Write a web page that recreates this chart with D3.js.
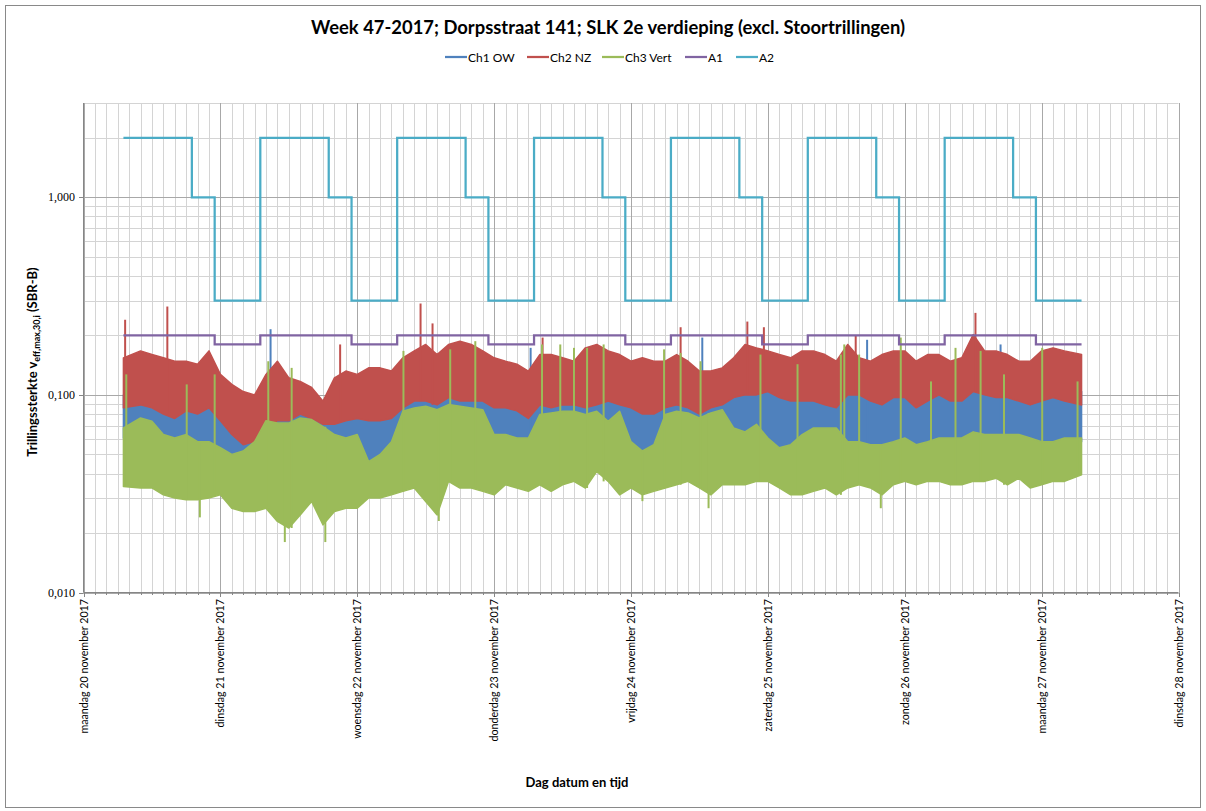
<!DOCTYPE html>
<html>
<head>
<meta charset="utf-8">
<script src="https://cdn.jsdelivr.net/npm/d3@7"></script>
<style>
  body { margin: 0; background: #fff; }
  svg { display: block; }
  text { font-family: Lato, "Open Sans", sans-serif; fill: #000; }
</style>
</head>
<body>
<div id="vis-container"></div>
<script>
// Data: 2-hour envelopes (lower / upper edge of each trace), from 20 nov 2017 07:00
var ch1Hi = [0.100,0.104,0.100,0.093,0.089,0.097,0.093,0.100,0.086,0.074,
  0.065,0.068,0.080,0.086,0.086,0.093,0.089,0.083,0.083,0.086,
  0.089,0.086,0.086,0.089,0.100,0.109,0.109,0.104,0.113,0.109,
  0.109,0.109,0.100,0.100,0.097,0.089,0.104,0.100,0.104,0.104,
  0.100,0.104,0.109,0.104,0.100,0.093,0.093,0.100,0.104,0.100,
  0.093,0.100,0.104,0.113,0.117,0.117,0.122,0.113,0.109,0.109,
  0.109,0.104,0.100,0.117,0.117,0.109,0.104,0.113,0.113,0.100,
  0.109,0.117,0.109,0.109,0.122,0.117,0.113,0.113,0.109,0.104,
  0.109,0.113,0.109,0.104];
var ch1Lo = [0.0605,0.068,0.065,0.063,0.058,0.0605,0.056,0.054,0.050,0.043,
  0.039,0.054,0.063,0.068,0.063,0.065,0.065,0.063,0.054,0.046,
  0.050,0.044,0.046,0.050,0.063,0.068,0.068,0.065,0.068,0.071,
  0.068,0.063,0.056,0.058,0.054,0.056,0.063,0.068,0.068,0.068,
  0.065,0.068,0.063,0.068,0.054,0.050,0.054,0.063,0.068,0.068,
  0.065,0.068,0.074,0.068,0.063,0.063,0.052,0.050,0.050,0.058,
  0.063,0.065,0.063,0.058,0.058,0.056,0.054,0.056,0.058,0.052,
  0.056,0.058,0.058,0.058,0.063,0.0605,0.0605,0.063,0.0605,0.058,
  0.056,0.056,0.058,0.058];
var ch2Hi = [0.154,0.167,0.160,0.154,0.148,0.148,0.143,0.167,0.127,0.113,
  0.104,0.100,0.127,0.148,0.122,0.117,0.109,0.093,0.122,0.132,
  0.127,0.137,0.137,0.132,0.154,0.167,0.180,0.160,0.180,0.187,
  0.180,0.167,0.154,0.148,0.143,0.132,0.160,0.160,0.154,0.148,
  0.173,0.180,0.167,0.160,0.148,0.154,0.148,0.148,0.160,0.148,
  0.132,0.132,0.137,0.154,0.180,0.173,0.167,0.160,0.154,0.167,
  0.167,0.160,0.148,0.180,0.154,0.148,0.160,0.167,0.167,0.148,
  0.160,0.160,0.148,0.154,0.202,0.167,0.167,0.160,0.148,0.148,
  0.167,0.173,0.167,0.160];
var ch2Lo = [0.086,0.089,0.086,0.080,0.076,0.083,0.080,0.086,0.074,0.063,
  0.056,0.058,0.068,0.074,0.074,0.080,0.076,0.071,0.071,0.074,
  0.076,0.074,0.074,0.076,0.086,0.093,0.093,0.089,0.097,0.093,
  0.093,0.093,0.086,0.086,0.083,0.076,0.089,0.086,0.089,0.089,
  0.086,0.089,0.093,0.089,0.086,0.080,0.080,0.086,0.089,0.086,
  0.080,0.086,0.089,0.097,0.100,0.100,0.104,0.097,0.093,0.093,
  0.093,0.089,0.086,0.100,0.100,0.093,0.089,0.097,0.097,0.086,
  0.093,0.100,0.093,0.093,0.104,0.100,0.097,0.097,0.093,0.089,
  0.093,0.097,0.093,0.089];
var ch3Hi = [0.068,0.0764,0.0735,0.063,0.0605,0.063,0.058,0.058,0.054,0.050,
  0.052,0.058,0.074,0.072,0.072,0.0764,0.075,0.069,0.063,0.0605,
  0.063,0.046,0.050,0.058,0.0826,0.0859,0.0876,0.0842,0.0893,0.0876,
  0.0859,0.0842,0.063,0.063,0.0605,0.0605,0.0795,0.081,0.0826,0.0826,
  0.0795,0.0826,0.0735,0.0826,0.058,0.052,0.056,0.0795,0.0826,0.081,
  0.0764,0.081,0.0842,0.068,0.065,0.071,0.0605,0.054,0.056,0.063,
  0.068,0.068,0.068,0.058,0.058,0.056,0.056,0.058,0.0605,0.056,
  0.058,0.0605,0.0605,0.0605,0.065,0.063,0.063,0.063,0.063,0.0605,
  0.058,0.058,0.0605,0.0605];
var ch3Lo = [0.0344,0.0338,0.0338,0.0312,0.0301,0.0295,0.0295,0.0301,0.0312,0.0267,
  0.0257,0.0257,0.0267,0.0229,0.0212,0.0247,0.0289,0.022,0.0257,0.0267,
  0.0267,0.0301,0.0301,0.0312,0.0325,0.0338,0.0289,0.0247,0.0365,0.0338,
  0.0338,0.0325,0.0312,0.0351,0.0338,0.0325,0.0351,0.0325,0.0351,0.0365,
  0.0338,0.041,0.0365,0.0312,0.0338,0.0312,0.0325,0.0338,0.0351,0.0365,
  0.0338,0.0312,0.0351,0.0351,0.0351,0.0365,0.0365,0.0338,0.0312,0.0312,
  0.0325,0.0338,0.0312,0.0338,0.0351,0.0338,0.0312,0.0351,0.0365,0.0351,
  0.0365,0.0365,0.0351,0.0351,0.0365,0.0365,0.0379,0.0351,0.0379,0.0338,
  0.0351,0.0365,0.0365,0.0394];

// single peaks [hours after start, value]
var ch1Spikes = [[25.8,0.215],[71.4,0.173],[101.5,0.195],[130.4,0.19],[153.8,0.18]];
var ch2Spikes = [[0.3,0.24],[7.7,0.28],[38,0.18],[52.1,0.29],[54.2,0.23],[73.5,0.195],
  [97.7,0.22],[109.4,0.235],[112.3,0.22],[128.4,0.2],[149.4,0.26]];
var ch3Spikes = [[0.5,0.127],[11.1,0.113],[16.0,0.127],[25.4,0.148],[29.5,0.137],[49.1,0.167],
  [57.3,0.17],[61.7,0.187],[73.4,0.18],[76.6,0.18],[79.0,0.173],[81.3,0.173],[84.2,0.18],
  [94.8,0.17],[97.7,0.163],[101.2,0.148],[111.7,0.16],[118.2,0.143],[125.8,0.16],[126.4,0.18],
  [129.0,0.16],[136.3,0.195],[141.6,0.117],[145.9,0.173],[150.3,0.167],[154.4,0.127],
  [161.1,0.173],[167.3,0.117]];
var ch3Dips = [[13.4,0.024],[28.3,0.018],[35.4,0.018],[55.3,0.023],[91,0.029],[102.6,0.0267],[132.8,0.0267]];

// limits per period: dag 07-19, avond 19-23, nacht 23-07
var periodHours = [12, 4, 8];
var a1Values = [0.2, 0.2, 0.18];
var a2Values = [2, 1, 0.3];

var seriesNames = ["Ch1 OW", "Ch2 NZ", "Ch3 Vert", "A1", "A2"];
var seriesColors = ["#4F81BD", "#C0504D", "#9BBB59", "#8064A2", "#4BACC6"];
var yTickValues = [0.01, 0.1, 1];
var dayNames = ["zondag","maandag","dinsdag","woensdag","donderdag","vrijdag","zaterdag"];
var monthNames = ["januari","februari","maart","april","mei","juni","juli","augustus","september","oktober","november","december"];

var start = new Date(2017, 10, 20, 7);
function atHour(h) { return new Date(start.getTime() + h * 3600000); }

var nl = d3.timeFormatLocale({
  dateTime: "%a %e %B %Y %X", date: "%d-%m-%Y", time: "%H:%M:%S", periods: ["AM","PM"],
  days: dayNames, shortDays: dayNames.map(d => d.slice(0,2)),
  months: monthNames, shortMonths: monthNames.map(m => m.slice(0,3))
});
var dayFormat = nl.format("%A %-d %B %Y");

var svg = d3.select("#vis-container").append("svg")
  .attr("width", 1206).attr("height", 811);

svg.append("rect")
  .attr("x", 5.5).attr("y", 5.5).attr("width", 1195).attr("height", 802)
  .attr("fill", "#fff").attr("stroke", "#898989");

var x = d3.scaleTime()
  .domain([new Date(2017, 10, 20), new Date(2017, 10, 28)])
  .range([83.5, 1178.5]);
var y = d3.scaleLog().domain([0.01, 3]).range([592.5, 103]);

// gridlines
var grid = svg.append("g");
grid.selectAll(".hminor").data(y.ticks()).enter().append("line")
  .attr("x1", 83.5).attr("x2", 1178.5)
  .attr("y1", d => Math.round(y(d)) + 0.5).attr("y2", d => Math.round(y(d)) + 0.5)
  .attr("stroke", "#d4d4d4");
grid.selectAll(".vminor").data(x.ticks(d3.timeHour.every(2))).enter().append("line")
  .attr("y1", 103).attr("y2", 592.5)
  .attr("x1", d => Math.round(x(d)) + 0.5).attr("x2", d => Math.round(x(d)) + 0.5)
  .attr("stroke", "#d4d4d4");
grid.selectAll(".hmajor").data(yTickValues).enter().append("line")
  .attr("x1", 83.5).attr("x2", 1178.5)
  .attr("y1", d => Math.round(y(d)) + 0.5).attr("y2", d => Math.round(y(d)) + 0.5)
  .attr("stroke", "#a8a8a8");
grid.selectAll(".vmajor").data(x.ticks(d3.timeDay.every(1))).enter().append("line")
  .attr("y1", 103).attr("y2", 592.5)
  .attr("x1", d => Math.round(x(d)) + 0.5).attr("x2", d => Math.round(x(d)) + 0.5)
  .attr("stroke", "#a8a8a8");

// series as min/max bands
function slotX(i, n) {
  var h = i === 0 ? 0 : (i === n - 1 ? 2 * n : 2 * i + 1);
  return x(atHour(h));
}
function drawBand(lo, hi, color) {
  var band = d3.area()
    .x((d, i) => slotX(i, lo.length))
    .y0((d, i) => y(lo[i]))
    .y1((d, i) => y(hi[i]));
  svg.append("path").datum(lo).attr("d", band).attr("fill", color)
    .attr("stroke", color).attr("stroke-width", 1.5).attr("stroke-linejoin", "round");
}
function drawSpikes(spikes, base, color) {
  svg.append("g").selectAll("line").data(spikes).enter().append("line")
    .attr("x1", d => x(atHour(d[0]))).attr("x2", d => x(atHour(d[0])))
    .attr("y1", d => y(d[1]))
    .attr("y2", d => y(base[Math.min(base.length - 1, Math.floor(d[0] / 2))]))
    .attr("stroke", color).attr("stroke-width", 2);
}

drawBand(ch1Lo, ch1Hi, seriesColors[0]);
drawSpikes(ch1Spikes, ch1Lo, seriesColors[0]);
drawBand(ch2Lo, ch2Hi, seriesColors[1]);
drawSpikes(ch2Spikes, ch2Lo, seriesColors[1]);
drawBand(ch3Lo, ch3Hi, seriesColors[2]);
drawSpikes(ch3Spikes, ch3Lo, seriesColors[2]);
drawSpikes(ch3Dips, ch3Hi, seriesColors[2]);

// limit lines A1 / A2 (step per period over 7 days)
function limitSteps(values) {
  var pts = [], h = 0;
  for (var d = 0; d < 7; d++) {
    for (var p = 0; p < periodHours.length; p++) {
      pts.push([h, values[p]]);
      h += periodHours[p];
      pts.push([h, values[p]]);
    }
  }
  return pts;
}
var stepLine = d3.line().x(d => x(atHour(d[0]))).y(d => y(d[1]));
svg.append("path").datum(limitSteps(a1Values)).attr("d", stepLine)
  .attr("fill", "none").attr("stroke", seriesColors[3]).attr("stroke-width", 2.25);
svg.append("path").datum(limitSteps(a2Values)).attr("d", stepLine)
  .attr("fill", "none").attr("stroke", seriesColors[4]).attr("stroke-width", 2.25);

// axes
svg.append("line").attr("x1", 83.5).attr("x2", 83.5).attr("y1", 103).attr("y2", 592.5)
  .attr("stroke", "#868686");
svg.append("line").attr("x1", 83.5).attr("x2", 1178.5).attr("y1", 592.5).attr("y2", 592.5)
  .attr("stroke", "#868686");
svg.selectAll(".ytick").data(yTickValues).enter().append("line")
  .attr("x1", 79).attr("x2", 83.5)
  .attr("y1", d => Math.round(y(d)) + 0.5).attr("y2", d => Math.round(y(d)) + 0.5)
  .attr("stroke", "#868686");
svg.selectAll(".ylab").data(yTickValues).enter().append("text")
  .attr("x", 75).attr("y", d => y(d) + 4)
  .attr("text-anchor", "end")
  .style("font-family", "'Liberation Serif', serif").style("font-size", "12px")
  .text(d => d3.format(".3f")(d).replace(".", ","));
svg.selectAll(".xtick").data(x.ticks(d3.timeHour.every(2))).enter().append("line")
  .attr("x1", d => Math.round(x(d)) + 0.5).attr("x2", d => Math.round(x(d)) + 0.5)
  .attr("y1", 592.5).attr("y2", d => d.getHours() === 0 ? 597 : 595)
  .attr("stroke", "#868686");
svg.selectAll(".xlab").data(x.ticks(d3.timeDay.every(1))).enter().append("text")
  .attr("transform", d => "translate(" + (x(d) + 4) + ",599) rotate(-90)")
  .attr("text-anchor", "end")
  .style("font-size", "10.7px")
  .text(d => dayFormat(d));

// titles
svg.append("text").attr("x", 608).attr("y", 34).attr("text-anchor", "middle")
  .style("font-size", "18.4px").style("font-weight", "bold")
  .text("Week 47-2017; Dorpsstraat 141; SLK 2e verdieping (excl. Stoortrillingen)");
svg.append("text").attr("x", 577).attr("y", 787).attr("text-anchor", "middle")
  .style("font-size", "13px").style("font-weight", "bold")
  .text("Dag datum en tijd");
var yTitle = svg.append("text")
  .attr("transform", "translate(37,362) rotate(-90)")
  .attr("text-anchor", "middle")
  .style("font-size", "13px").style("font-weight", "bold");
yTitle.append("tspan").text("Trillingssterkte v");
yTitle.append("tspan").attr("dy", 3).style("font-size", "9px").text("eff,max,30,i");
yTitle.append("tspan").attr("dy", -3).text(" (SBR-B)");

// legend
var legendX = [445, 527, 602, 685, 736];
var legend = svg.append("g").selectAll("g").data(seriesNames).enter().append("g")
  .attr("transform", (d, i) => "translate(" + legendX[i] + ",57)");
legend.append("line").attr("x1", 0).attr("x2", 22)
  .attr("stroke", (d, i) => seriesColors[i]).attr("stroke-width", 2.25);
legend.append("text").attr("x", 23).attr("y", 4.5)
  .style("font-size", "12px").text(d => d);
</script>
</body>
</html>
